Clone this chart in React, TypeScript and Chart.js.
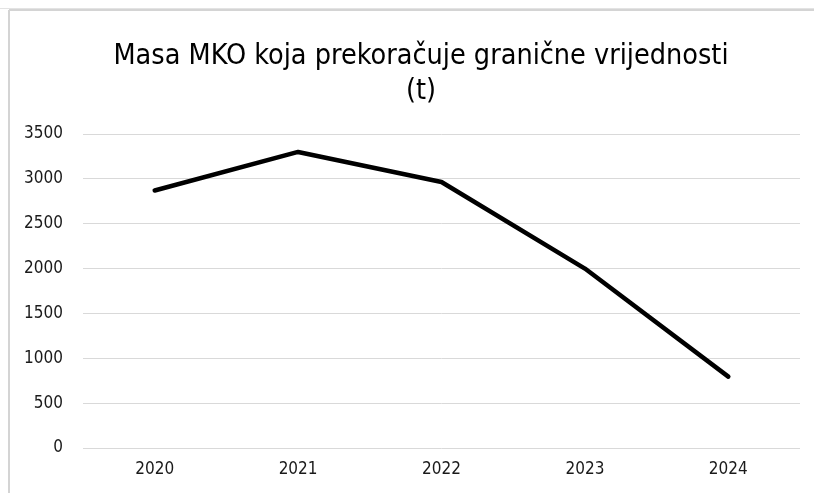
import React, { useEffect, useRef } from "react";
import { Chart, registerables } from "chart.js";

Chart.register(...registerables);

const categories = ["2020", "2021", "2022", "2023", "2024"];
const values = [2870, 3300, 2965, 2000, 796];
const titleLines = ["Masa MKO koja prekoračuje granične vrijednosti", "(t)"];
const FONT = "'DejaVu Sans Condensed', 'Liberation Sans Narrow', 'Open Sans', sans-serif";

const framePlugin = {
  id: "frame",
  beforeDraw(chart: any) {
    const { ctx, width, height } = chart;
    ctx.save();
    ctx.fillStyle = "#ffffff";
    ctx.fillRect(0, 0, width, height);
    ctx.strokeStyle = "#e3e3e3";
    ctx.lineWidth = 1;
    ctx.beginPath();
    ctx.moveTo(0, 8.5);
    ctx.lineTo(width, 8.5);
    ctx.stroke();
    ctx.strokeStyle = "#d4d4d4";
    ctx.lineWidth = 2;
    ctx.beginPath();
    ctx.moveTo(9, 10);
    ctx.lineTo(width, 10);
    ctx.moveTo(9, 10);
    ctx.lineTo(9, height);
    ctx.stroke();
    ctx.restore();
  },
  afterDraw(chart: any) {
    const { ctx } = chart;
    ctx.save();
    ctx.fillStyle = "#000000";
    ctx.font = `28.5px ${FONT}`;
    ctx.textAlign = "center";
    ctx.textBaseline = "middle";
    ctx.fillText(titleLines[0], 421, 57);
    ctx.fillText(titleLines[1], 421, 92);
    ctx.restore();
  },
};

export default function App() {
  const ref = useRef<HTMLCanvasElement | null>(null);
  useEffect(() => {
    if (!ref.current) return;
    const chart = new Chart(ref.current, {
      type: "line",
      data: {
        labels: categories,
        datasets: [
          {
            data: values,
            borderColor: "#000000",
            backgroundColor: "#000000",
            borderWidth: 4.5,
            pointRadius: 0,
            borderCapStyle: "round",
            borderJoinStyle: "round",
            tension: 0,
          },
        ],
      },
      options: {
        animation: false,
        responsive: false,
        layout: { padding: { left: 0, right: 14, top: 134, bottom: 0 } },
        plugins: {
          legend: { display: false },
          tooltip: { enabled: false },
          title: { display: false },
        },
        scales: {
          x: {
            offset: true,
            grid: { display: false, drawTicks: false },
            border: { display: false },
            ticks: { color: "#1a1a1a", font: { family: FONT, size: 17 }, padding: 11, maxRotation: 0 },
            afterFit(scale: any) {
              scale.height = 45;
            },
          },
          y: {
            min: 0,
            max: 3500,
            ticks: {
              stepSize: 500,
              color: "#1a1a1a",
              font: { family: FONT, size: 17 },
              padding: 20,
              callback: (v: any) => String(v),
            },
            grid: { color: "#d9d9d9", lineWidth: 1, drawTicks: false },
            border: { display: false },
            afterFit(scale: any) {
              scale.width = 83;
            },
          },
        },
      },
      plugins: [framePlugin],
    });
    return () => chart.destroy();
  }, []);
  return (
    <div style={{ position: "absolute", left: 0, top: 0, width: 814, height: 493 }}>
      <canvas ref={ref} width={814} height={493} style={{ width: 814, height: 493, display: "block" }} />
    </div>
  );
}
